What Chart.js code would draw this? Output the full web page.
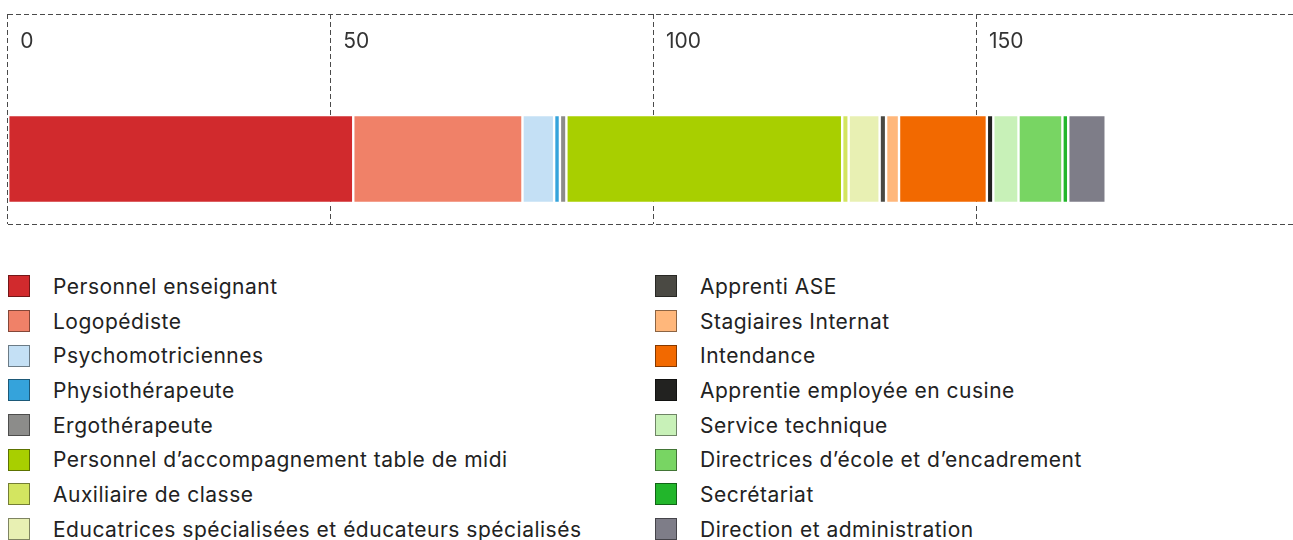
<!DOCTYPE html>
<html lang="fr">
<head>
<meta charset="utf-8">
<title>Répartition du personnel</title>
<script src="https://cdn.jsdelivr.net/npm/chart.js@4.4.1/dist/chart.umd.min.js"></script>
<style>
    body { margin: 0; background: #fff; font-family: Inter, "Noto Sans", sans-serif; }
    #chart-box { position: relative; width: 1293px; height: 226px; }
    #legend {
        position: absolute; top: 269px; left: 8px;
        margin: 0; padding: 0; list-style: none;
        display: grid; grid-auto-flow: column;
        grid-template-rows: repeat(8, 34.7px);
        grid-template-columns: 647px 600px;
    }
    #legend li { display: flex; align-items: center; font-size: 21px; letter-spacing: 0.5px; color: #222; white-space: nowrap; }
    #legend .swatch { width: 20px; height: 20px; border: 1px solid rgba(0, 0, 0, 0.45); margin-right: 23px; flex: none; }
</style>
</head>
<body>
<div id="chart-box"><canvas id="staffChart"></canvas></div>
<ul id="legend"></ul>

<script>
// one stacked bar, one segment per staff group (EPT)
const categories = ['Personnel'];
const staffGroups = [
    'Personnel enseignant',
    'Logopédiste',
    'Psychomotriciennes',
    'Physiothérapeute',
    'Ergothérapeute',
    'Personnel d’accompagnement table de midi',
    'Auxiliaire de classe',
    'Educatrices spécialisées et éducateurs spécialisés',
    'Apprenti ASE',
    'Stagiaires Internat',
    'Intendance',
    'Apprentie employée en cusine',
    'Service technique',
    'Directrices d’école et d’encadrement',
    'Secrétariat',
    'Direction et administration'
];
const staffValues = [53.5, 26.2, 4.9, 0.9, 1, 42.7, 1, 4.8, 1, 2, 13.6, 1, 3.9, 6.8, 0.9, 5.8];
const groupColors = [
    '#d12a2d', '#f08168', '#c4e0f5', '#35a3db', '#8c8c8a', '#a8cf00', '#d3e560', '#e8f0b3',
    '#4a4943', '#ffb77b', '#f26900', '#222220', '#c8f1b8', '#78d563', '#22b62b', '#7e7d88'
];
const xTicks = [0, 50, 100, 150];

document.addEventListener('DOMContentLoaded', () => {
    const ctx = document.getElementById('staffChart').getContext('2d');

    // empty first stack only pushes the real bar down in its row
    const datasets = [{ label: '', data: [null], stack: 'spacer', backgroundColor: 'transparent' }];
    staffGroups.forEach((name, i) => {
        datasets.push({
            label: name,
            data: [staffValues[i]],
            stack: 'staff',
            backgroundColor: groupColors[i]
        });
    });

    new Chart(ctx, {
        type: 'bar',
        data: { labels: categories, datasets: datasets },
        options: {
            indexAxis: 'y',
            responsive: true,
            maintainAspectRatio: false,
            animation: false,
            layout: { padding: { top: 14, left: 7.7, right: 0, bottom: 2 } },
            datasets: {
                bar: {
                    categoryPercentage: 160 / 210,
                    barPercentage: 1.1,
                    borderWidth: 1.2,
                    borderColor: '#ffffff',
                    borderSkipped: false
                }
            },
            plugins: {
                legend: { display: false },
                tooltip: { enabled: false }
            },
            scales: {
                x: {
                    position: 'top',
                    stacked: true,
                    min: 0,
                    max: 199,
                    z: 1,
                    afterBuildTicks: (axis) => { axis.ticks = xTicks.map(v => ({ value: v })); },
                    border: { display: false, dash: [5, 3] },
                    grid: { color: '#4a4a4a', lineWidth: 1, drawTicks: false },
                    ticks: {
                        // labels sit inside the plot, under the top line
                        mirror: true,
                        align: 'start',
                        labelOffset: 12.5,
                        padding: 0,
                        color: '#333',
                        font: { family: 'Inter', size: 21, lineHeight: 2.64 }
                    }
                },
                y: {
                    stacked: true,
                    border: { display: false, dash: [5, 3] },
                    grid: { color: '#4a4a4a', lineWidth: 1, drawTicks: false },
                    ticks: { display: false }
                }
            }
        }
    });

    // legend in two columns, built from the same arrays
    const legend = document.getElementById('legend');
    staffGroups.forEach((name, i) => {
        const li = document.createElement('li');
        const box = document.createElement('span');
        box.className = 'swatch';
        box.style.background = groupColors[i];
        li.appendChild(box);
        li.appendChild(document.createTextNode(name));
        legend.appendChild(li);
    });
});
</script>
</body>
</html>
